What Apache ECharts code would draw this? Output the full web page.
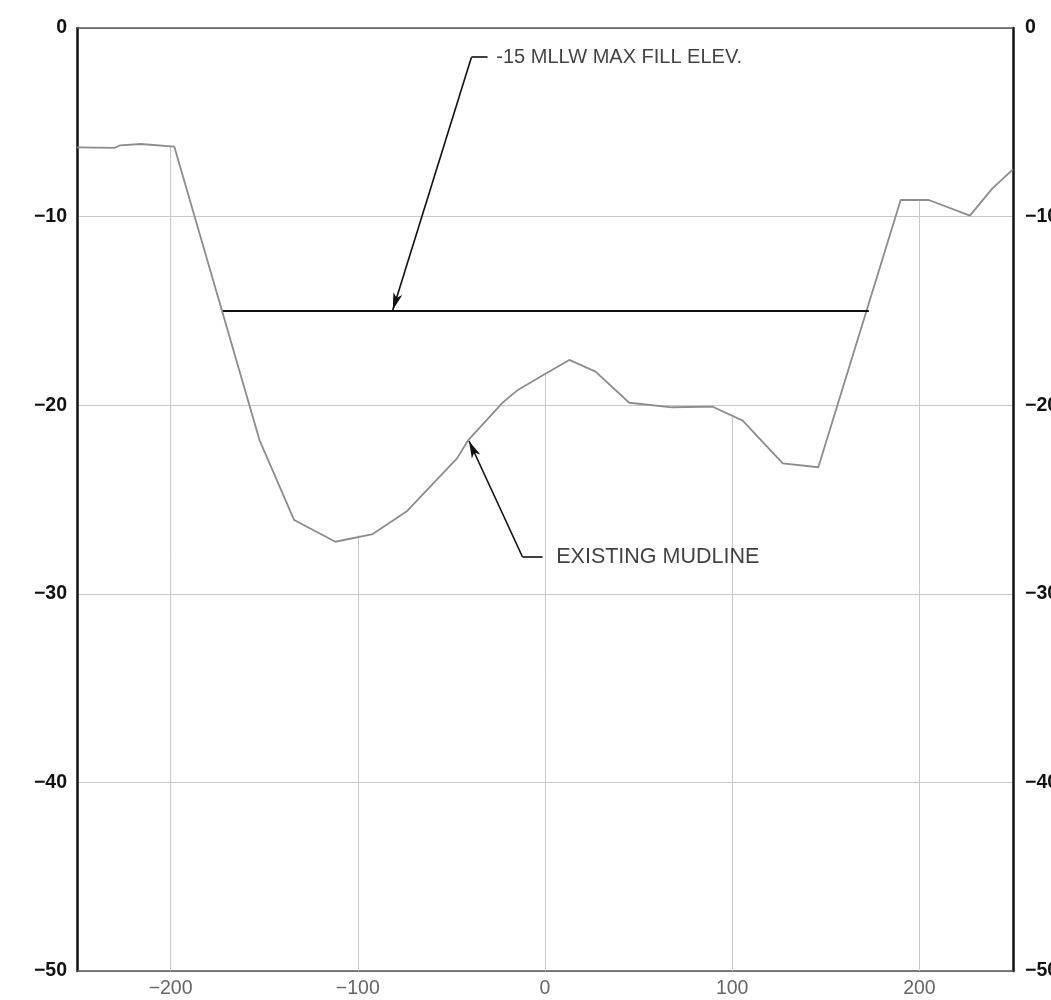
<!DOCTYPE html>
<html>
<head>
<meta charset="utf-8">
<script src="https://cdn.jsdelivr.net/npm/echarts@6/dist/echarts.min.js"></script>
<style>
  html, body { margin: 0; padding: 0; background: #fff; }
  #chart { width: 1051px; height: 1000px; }
</style>
</head>
<body>
<div id="chart"></div>
<script>
// mudline profile (station ft, elevation ft MLLW)
const profileX = [-250, -230, -227, -216, -198, -152.5, -134, -112, -92, -74, -47, -41, -22.5, -14.5, 0.7, 13, 27, 45, 68, 89.6, 105.6, 127, 146, 190, 205, 227, 239, 250]
const profileY = [-6.33, -6.36, -6.22, -6.15, -6.29, -21.85, -26.09, -27.24, -26.83, -25.64, -22.82, -21.85, -19.85, -19.19, -18.31, -17.6, -18.22, -19.87, -20.11, -20.08, -20.82, -23.08, -23.29, -9.12, -9.12, -9.95, -8.5, -7.5]

// max fill elevation line
const fillX = [-172, 173]
const fillY = [-15, -15]

// vertical grid lines only run from the mudline down
const gridX = [-200, -100, 0, 100, 200]
const gridTop = [-6.3, -26.9, -18.35, -20.6, -9.12]

// tick labels
const xTicks = [-200, -100, 0, 100, 200]
const xTickLabels = ['\u2212200', '\u2212100', '0', '100', '200']
const yTicks = [0, -10, -20, -30, -40, -50]
const yTickLabels = ['0', '\u221210', '\u221220', '\u221230', '\u221240', '\u221250']

// callouts: text anchor, leader corner, tick end, arrow tip
const calloutText = ['-15 MLLW MAX FILL ELEV.', 'EXISTING MUDLINE']
const calloutSize = [20, 21.5]
const calloutX = [-26, 6]
const calloutY = [-1.55, -28.05]
const leaderTickX = [-30.7, -1.3]
const leaderCornerX = [-39.3, -12]
const leaderTipX = [-81.3, -40.6]
const leaderTipY = [-14.95, -21.9]

const FONT = '"Liberation Sans", Arial, Helvetica, sans-serif'

const xLabel = v => {
  const i = xTicks.indexOf(v)
  return i >= 0 ? xTickLabels[i] : ''
}
const yLabel = v => {
  const i = yTicks.indexOf(v)
  return i >= 0 ? yTickLabels[i] : ''
}

const chart = echarts.init(document.getElementById('chart'), null, { renderer: 'canvas' })

const baseX = {
  type: 'value',
  min: -250,
  max: 250,
  interval: 50,
  splitLine: { show: false },
  axisTick: { show: false }
}
const baseY = {
  type: 'value',
  min: -50,
  max: 0,
  interval: 10,
  axisTick: { show: false }
}

const leaders = calloutText.map((t, i) => [
  [{ coord: [leaderTickX[i], calloutY[i]], symbol: 'none' }, { coord: [leaderCornerX[i], calloutY[i]], symbol: 'none' }],
  [{ coord: [leaderCornerX[i], calloutY[i]], symbol: 'none' }, { coord: [leaderTipX[i], leaderTipY[i]], symbol: 'arrow', symbolSize: [7, 17] }]
]).flat()

const option = {
  backgroundColor: '#ffffff',
  animation: false,
  grid: { left: 77, right: 38, top: 28, bottom: 29, containLabel: false, outerBoundsMode: 'none' },
  xAxis: [
    {
      ...baseX,
      position: 'bottom',
      axisLine: { onZero: false, lineStyle: { color: '#555', width: 1.5 } },
      axisLabel: { formatter: xLabel, color: '#666', fontSize: 19.5, fontFamily: FONT, margin: 8 }
    },
    {
      ...baseX,
      position: 'top',
      axisLine: { onZero: false, lineStyle: { color: '#555', width: 1.5 } },
      axisLabel: { show: false }
    }
  ],
  yAxis: [
    {
      ...baseY,
      position: 'left',
      axisLine: { show: true, onZero: false, lineStyle: { color: '#111', width: 2.5 } },
      axisLabel: { formatter: yLabel, color: '#111', fontSize: 19.5, fontWeight: 'bold', fontFamily: FONT, margin: 10 },
      splitLine: { show: true, lineStyle: { color: '#c8c8c8', width: 1 } }
    },
    {
      ...baseY,
      position: 'right',
      axisLine: { show: true, onZero: false, lineStyle: { color: '#111', width: 2.5 } },
      axisLabel: { formatter: yLabel, color: '#111', fontSize: 19.5, fontWeight: 'bold', fontFamily: FONT, margin: 12 },
      splitLine: { show: false }
    }
  ],
  series: [
    {
      name: 'Existing mudline',
      type: 'line',
      data: profileX.map((x, i) => [x, profileY[i]]),
      showSymbol: false,
      lineStyle: { color: '#8c8c8c', width: 1.8 },
      z: 3,
      markLine: {
        silent: true,
        symbol: 'none',
        label: { show: false },
        lineStyle: { color: '#c8c8c8', width: 1, type: 'solid' },
        data: gridX.map((x, i) => [{ coord: [x, gridTop[i]] }, { coord: [x, -50] }]),
        z: 1
      }
    },
    {
      name: 'Max fill elev',
      type: 'line',
      data: fillX.map((x, i) => [x, fillY[i]]),
      showSymbol: false,
      lineStyle: { color: '#111', width: 2 },
      z: 4,
      markLine: {
        silent: true,
        label: { show: false },
        lineStyle: { color: '#111', width: 1.6, type: 'solid' },
        itemStyle: { color: '#111' },
        data: leaders
      }
    },
    {
      name: 'callouts',
      type: 'scatter',
      symbolSize: 0,
      silent: true,
      data: calloutText.map((t, i) => ({
        name: t,
        value: [calloutX[i], calloutY[i]],
        label: { fontSize: calloutSize[i] }
      })),
      label: {
        show: true,
        position: 'right',
        distance: 0,
        formatter: p => p.name,
        color: '#111',
        fontFamily: FONT
      }
    }
  ]
}

chart.setOption(option)
window.addEventListener('resize', () => chart.resize())
</script>
</body>
</html>
